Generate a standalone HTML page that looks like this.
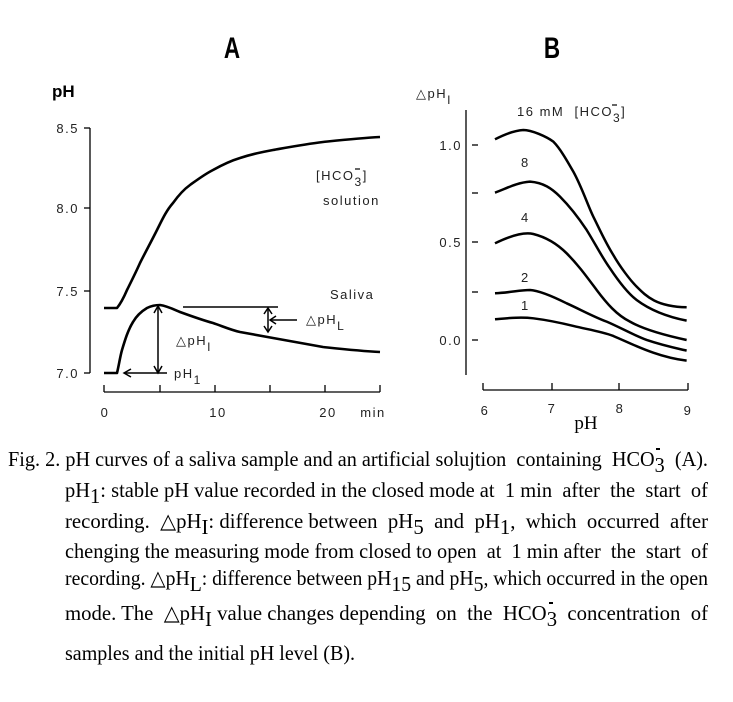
<!DOCTYPE html>
<html><head><meta charset="utf-8"><style>
html,body{margin:0;padding:0;background:#fff;}
svg{display:block;}
text{white-space:pre;}
.l{font-family:"Liberation Sans",sans-serif;font-size:13px;fill:#222;letter-spacing:1.5px;}
.c{font-family:"Liberation Serif",serif;font-size:21px;fill:#000;}
</style></head><body>
<svg width="733" height="702" viewBox="0 0 733 702" xmlns="http://www.w3.org/2000/svg" xml:space="preserve">
<!-- Panel A -->
<text x="232" y="58" font-family="Liberation Sans,sans-serif" font-size="30" font-weight="bold" text-anchor="middle" transform="translate(232,0) scale(0.75,1) translate(-232,0)">A</text>
<text x="52" y="97" font-family="Liberation Sans,sans-serif" font-size="17" font-weight="bold">pH</text>
<g stroke="#000" fill="none" stroke-width="1.3">
<line x1="90" y1="128" x2="90" y2="373"/>
<line x1="84" y1="128" x2="90" y2="128"/><line x1="84" y1="208" x2="90" y2="208"/><line x1="84" y1="291" x2="90" y2="291"/><line x1="84" y1="373" x2="90" y2="373"/>
<line x1="104" y1="392" x2="380" y2="392"/>
<line x1="104" y1="385" x2="104" y2="392"/><line x1="160" y1="385" x2="160" y2="392"/><line x1="215" y1="385" x2="215" y2="392"/><line x1="270" y1="385" x2="270" y2="392"/><line x1="325" y1="385" x2="325" y2="392"/><line x1="380" y1="385" x2="380" y2="392"/>
</g>
<g class="l" text-anchor="end"><text x="79" y="133">8.5</text><text x="79" y="213">8.0</text><text x="79" y="296">7.5</text><text x="79" y="378">7.0</text></g>
<g class="l" text-anchor="middle"><text x="105" y="417">0</text><text x="218" y="417">10</text><text x="328" y="417">20</text><text x="373" y="417">min</text></g>
<g stroke="#000" fill="none" stroke-width="2.6" stroke-linejoin="round">
<path d="M104,308 L117,308 C121,303 124,297 127,290 C132,280 136,272 140,263 C146,251 151,242 157,230 C162,220 166,211 173,203 C178,196 183,190 190,185 C197,180 205,174 213,170 C222,165 230,161 240,158 C252,154 262,152 273,150 C290,147 306,144 323,142 C342,140 360,138 380,137"/>
<path d="M104,373 L117,373 C119,365 120,357 122,350 C125,340 128,330 133,322 C137,315 142,311 147,308 C151,306 155,305 160,305 C167,306 173,309 180,312 C191,316 202,320 213,323 C222,326 231,330 240,332 C251,334 262,336 273,338 C290,341 306,344 323,347 C342,349 360,351 380,352"/>
</g>
<g stroke="#000" fill="none" stroke-width="1.5">
<line x1="183" y1="307" x2="278" y2="307"/>
<line x1="268" y1="309" x2="268" y2="331"/><path d="M264,314 L268,308 L272,314 M264,326 L268,332 L272,326"/>
<line x1="297" y1="320" x2="270" y2="320"/><path d="M276,316 L270,320 L276,324"/>
<line x1="158" y1="307" x2="158" y2="372"/><path d="M154,313 L158,306 L162,313 M154,366 L158,373 L162,366"/>
<line x1="167" y1="373" x2="124" y2="373"/><path d="M131,369 L124,373 L131,377"/>
</g>
<g class="l">
<text x="176" y="345">△pH<tspan font-size="12" dy="6">I</tspan></text>
<text x="306" y="324">△pH<tspan font-size="12" dy="6">L</tspan></text>
<text x="174" y="378">pH<tspan font-size="12" dy="6">1</tspan></text>
<text x="316" y="180">[HCO<tspan font-size="12" dy="6">3</tspan><tspan dy="-6">]</tspan></text>
<line x1="355" y1="169" x2="360" y2="169" stroke="#000" stroke-width="1.2"/>
<text x="323" y="205">solution</text>
<text x="330" y="299">Saliva</text>
</g>
<!-- Panel B -->
<text x="552" y="58" font-family="Liberation Sans,sans-serif" font-size="30" font-weight="bold" text-anchor="middle" transform="translate(552,0) scale(0.75,1) translate(-552,0)">B</text>
<g stroke="#000" fill="none" stroke-width="1.3">
<line x1="466" y1="110" x2="466" y2="375"/>
<line x1="472" y1="145" x2="478" y2="145"/><line x1="472" y1="193" x2="478" y2="193"/><line x1="472" y1="242" x2="478" y2="242"/><line x1="472" y1="292" x2="478" y2="292"/><line x1="472" y1="340" x2="478" y2="340"/>
<line x1="483" y1="390" x2="688" y2="390"/>
<line x1="483" y1="383" x2="483" y2="390"/><line x1="552" y1="383" x2="552" y2="390"/><line x1="619" y1="383" x2="619" y2="390"/><line x1="688" y1="383" x2="688" y2="390"/>
</g>
<g class="l" text-anchor="end"><text x="462" y="150">1.0</text><text x="462" y="247">0.5</text><text x="462" y="345">0.0</text></g>
<g class="l" text-anchor="middle"><text x="485" y="415">6</text><text x="552" y="413">7</text><text x="620" y="413">8</text><text x="688" y="415">9</text></g>
<text x="586" y="429" font-family="Liberation Serif,serif" font-size="19" text-anchor="middle">pH</text>
<g class="l">
<text x="416" y="98">△pH<tspan font-size="12" dy="6">I</tspan></text>
<text x="517" y="116">16 mM  [HCO<tspan font-size="12" dy="6">3</tspan><tspan dy="-6">]</tspan></text>
<line x1="612" y1="105" x2="617" y2="105" stroke="#000" stroke-width="1.2"/>
<text x="521" y="167">8</text><text x="521" y="222">4</text><text x="521" y="282">2</text><text x="521" y="310">1</text>
</g>
<g transform="translate(400,30) scale(0.3333)" stroke="#000" fill="none" stroke-width="7.5" stroke-linejoin="round">
<path d="M285,328 C310,315 340,302 370,300 C395,300 440,320 460,335 C480,355 500,390 520,425 C545,470 565,530 580,560 C600,600 615,635 640,675 C660,710 690,750 710,770 C740,800 770,830 860,832"/>
<path d="M285,488 C320,475 350,458 390,455 C430,458 455,475 480,500 C510,530 540,570 560,600 C585,640 605,680 630,715 C660,760 690,795 710,810 C750,840 800,860 860,872"/>
<path d="M285,640 C330,618 370,605 400,612 C440,622 475,645 500,670 C535,705 560,740 590,780 C620,820 650,855 690,875 C730,898 790,915 860,930"/>
<path d="M285,790 C330,788 360,780 390,780 C420,782 460,800 500,820 C540,838 580,860 620,875 C660,892 700,915 740,930 C790,947 830,955 860,962"/>
<path d="M285,868 C320,865 360,860 400,865 C440,870 480,878 520,888 C560,898 600,903 640,918 C680,935 720,955 760,968 C800,982 830,988 860,992"/>
</g>
<!-- Caption -->
<g class="c">
<text x="8" y="466" textLength="700" lengthAdjust="spacingAndGlyphs">Fig. 2. pH curves of a saliva sample and an artificial solujtion  containing  HCO<tspan dy="6">3</tspan><tspan dy="-6">  (A).</tspan></text>
<line x1="656" y1="449" x2="660" y2="449" stroke="#000" stroke-width="2"/>
<text x="65" y="497" textLength="643" lengthAdjust="spacingAndGlyphs">pH<tspan dy="6">1</tspan><tspan dy="-6">: stable pH value recorded in the closed mode at  1 min  after  the  start  of</tspan></text>
<text x="65" y="528" textLength="643" lengthAdjust="spacingAndGlyphs">recording.  △pH<tspan dy="6">I</tspan><tspan dy="-6">: difference between  pH</tspan><tspan dy="6">5</tspan><tspan dy="-6">  and  pH</tspan><tspan dy="6">1</tspan><tspan dy="-6">,  which  occurred  after</tspan></text>
<text x="65" y="558" textLength="643" lengthAdjust="spacingAndGlyphs">chenging the measuring mode from closed to open  at  1 min after  the  start  of</text>
<text x="65" y="585" textLength="643" lengthAdjust="spacingAndGlyphs">recording. △pH<tspan dy="6">L</tspan><tspan dy="-6">: difference between pH</tspan><tspan dy="6">15</tspan><tspan dy="-6"> and pH</tspan><tspan dy="6">5</tspan><tspan dy="-6">, which occurred in the open</tspan></text>
<text x="65" y="620" textLength="643" lengthAdjust="spacingAndGlyphs">mode. The  △pH<tspan dy="6">I</tspan><tspan dy="-6"> value changes depending  on  the  HCO</tspan><tspan dy="6">3</tspan><tspan dy="-6">  concentration  of</tspan></text>
<line x1="549" y1="603" x2="553" y2="603" stroke="#000" stroke-width="2"/>
<text x="65" y="660" textLength="290" lengthAdjust="spacingAndGlyphs">samples and the initial pH level (B).</text>
</g>
</svg>
</body></html>
